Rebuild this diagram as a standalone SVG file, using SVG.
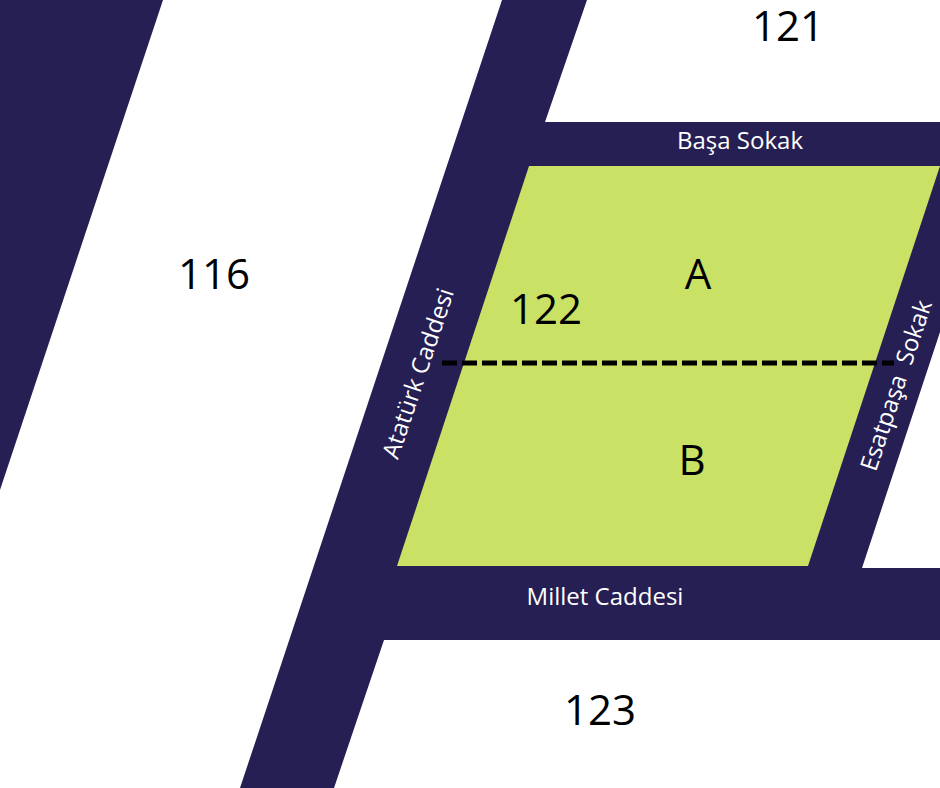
<svg xmlns="http://www.w3.org/2000/svg" width="940" height="788" viewBox="0 0 940 788">
<style>
.road{fill:#261f54}
.lot{fill:#c9e265}
.n{font-family:"Open Sans","Noto Sans",sans-serif;font-size:42px;fill:#000;text-anchor:middle}
.s{font-family:"Open Sans","Noto Sans",sans-serif;font-size:24px;fill:#fff;text-anchor:middle}
</style>
<rect width="940" height="788" fill="#fff"/>
<g id="roads">
<polygon class="road" points="0,0 163,0 0,490"/>
<polygon class="road" points="502,0 587,0 545,122 940,122 940,332 862,568 940,568 940,640 384,640 334,788 240,788"/>
</g>
<g id="lot"><polygon class="lot" points="529,166 940,166 808,566 397,566"/></g>
<g id="connectors"><line x1="442" y1="363" x2="894" y2="363" stroke="#000" stroke-width="5" stroke-dasharray="15 5"/></g>
<g id="labels">
<text class="n" x="788" y="41">121</text>
<text class="n" x="214" y="289">116</text>
<text class="n" x="546" y="324">122</text>
<text class="n" x="698" y="289">A</text>
<text class="n" x="692" y="475">B</text>
<text class="n" x="600" y="725">123</text>
<text class="s" x="740" y="149">Başa Sokak</text>
<text class="s" x="605" y="605">Millet Caddesi</text>
<text class="s" transform="translate(426 376) rotate(-71.5)">Atatürk Caddesi</text>
<text class="s" transform="translate(904 388) rotate(-71.5)" xml:space="preserve">Esatpaşa  Sokak</text>
</g>
</svg>
